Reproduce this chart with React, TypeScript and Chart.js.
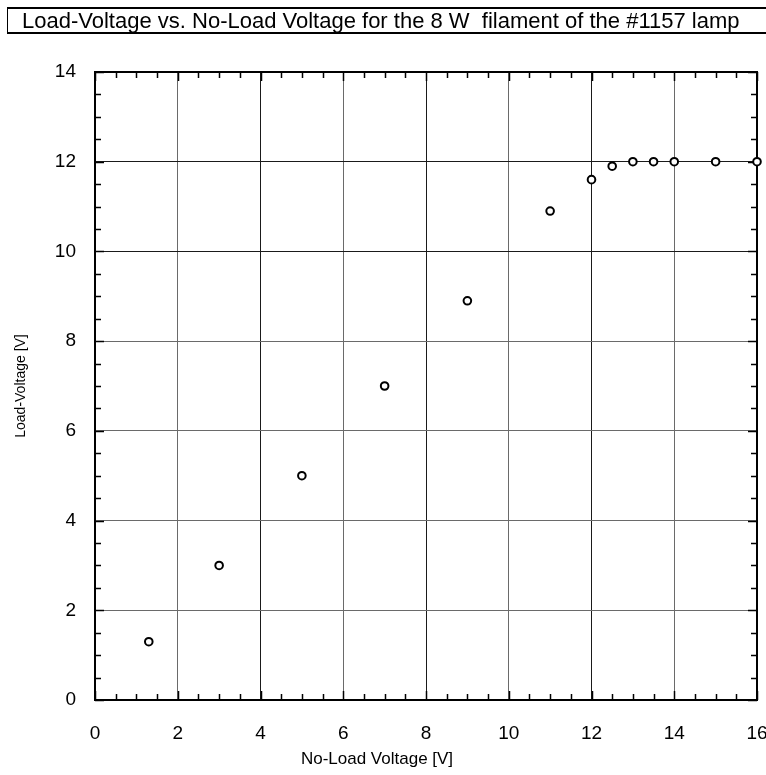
import React, { useEffect, useRef } from "react";
import { Chart, registerables } from "chart.js";

Chart.register(...registerables);

const noLoadVoltage = [1.3, 3, 5, 7, 9, 11, 12, 12.5, 13, 13.5, 14, 15, 16];
const loadVoltage = [1.3, 3, 5, 7, 8.9, 10.9, 11.6, 11.9, 12, 12, 12, 12, 12];
const xMajorTicks = [0, 2, 4, 6, 8, 10, 12, 14, 16];
const yMajorTicks = [0, 2, 4, 6, 8, 10, 12, 14];
const minorStep = 0.5;
const titleText = "Load-Voltage vs. No-Load Voltage for the 8 W  filament of the #1157 lamp";
const xTitle = "No-Load Voltage [V]";
const yTitle = "Load-Voltage [V]";

const FONT = "'Liberation Sans', Arial, Helvetica, sans-serif";

const frameAndTicks = {
  id: "frameAndTicks",
  beforeDatasetsDraw(chart: any) {
    const { ctx, chartArea } = chart;
    const xs = chart.scales.x;
    const ys = chart.scales.y;
    const { left, right, top, bottom } = chartArea;
    ctx.save();
    ctx.strokeStyle = "#000";
    ctx.lineWidth = 1.5;
    const len = 6;
    ctx.beginPath();
    for (let v = xs.min; v <= xs.max + 1e-9; v += minorStep) {
      const px = Math.round(xs.getPixelForValue(v)) + 0.5;
      const l = xMajorTicks.includes(v) ? len + 3 : len;
      ctx.moveTo(px, bottom);
      ctx.lineTo(px, bottom - l);
      ctx.moveTo(px, top);
      ctx.lineTo(px, top + l);
    }
    for (let v = ys.min; v <= ys.max + 1e-9; v += minorStep) {
      const py = Math.round(ys.getPixelForValue(v)) + 0.5;
      const l = yMajorTicks.includes(v) ? len + 3 : len;
      ctx.moveTo(left, py);
      ctx.lineTo(left + l, py);
      ctx.moveTo(right, py);
      ctx.lineTo(right - l, py);
    }
    ctx.stroke();
    ctx.lineWidth = 2;
    ctx.strokeRect(left, top, right - left, bottom - top);
    ctx.restore();
  },
  afterDraw(chart: any) {
    const { ctx, chartArea } = chart;
    const { left, right } = chartArea;
    ctx.save();
    ctx.fillStyle = "#000";
    ctx.font = `17px ${FONT}`;
    ctx.textAlign = "center";
    ctx.textBaseline = "middle";
    ctx.fillText(xTitle, left + (right - left) * 0.426, 759);
    ctx.restore();
  },
};

export default function App() {
  const ref = useRef<HTMLCanvasElement | null>(null);

  useEffect(() => {
    if (!ref.current) return;
    const chart = new Chart(ref.current, {
      type: "scatter",
      data: {
        datasets: [
          {
            data: noLoadVoltage.map((x, i) => ({ x, y: loadVoltage[i] })),
            pointStyle: "circle",
            pointRadius: 3.8,
            pointBorderWidth: 2,
            borderColor: "#000",
            backgroundColor: "#fff",
            showLine: false,
            clip: false,
          } as any,
        ],
      },
      options: {
        animation: false,
        responsive: false,
        devicePixelRatio: 1,
        layout: { padding: { top: 72, right: 33, left: 0, bottom: 0 } },
        plugins: {
          legend: { display: false },
          tooltip: { enabled: false },
          title: { display: false },
        },
        scales: {
          x: {
            type: "linear",
            min: 0,
            max: 16,
            afterBuildTicks: (s: any) => {
              s.ticks = xMajorTicks.map((v) => ({ value: v }));
            },
            afterFit: (s: any) => {
              s.height = 75;
            },
            ticks: {
              color: "#000",
              padding: 22,
              autoSkip: false,
              maxRotation: 0,
              font: { family: FONT, size: 19 },
            },
            grid: {
              drawTicks: false,
              lineWidth: 1,
              color: (c: any) =>
                [4, 8, 12].includes(c.tick?.value) ? "#1a1a1a" : "#6a6a6a",
            },
            border: { display: false },
            title: { display: false, text: xTitle },
          },
          y: {
            type: "linear",
            min: 0,
            max: 14,
            afterBuildTicks: (s: any) => {
              s.ticks = yMajorTicks.map((v) => ({ value: v }));
            },
            afterFit: (s: any) => {
              s.width = 95;
            },
            ticks: {
              color: "#000",
              padding: 19,
              autoSkip: false,
              font: { family: FONT, size: 19 },
            },
            grid: {
              drawTicks: false,
              lineWidth: 1,
              color: (c: any) =>
                [10, 12].includes(c.tick?.value) ? "#1a1a1a" : "#6a6a6a",
            },
            border: { display: false },
            title: {
              display: true,
              text: yTitle,
              color: "#000",
              font: { family: FONT, size: 14 },
              padding: { top: 13, bottom: 0 },
            },
          },
        },
      } as any,
      plugins: [frameAndTicks],
    });
    return () => chart.destroy();
  }, []);

  return (
    <div
      style={{
        position: "absolute",
        left: 0,
        top: 0,
        width: 766,
        height: 775,
        overflow: "hidden",
        background: "#fff",
      }}
    >
      <canvas
        ref={ref}
        width={790}
        height={775}
        style={{ position: "absolute", left: 0, top: 0, width: 790, height: 775 }}
      />
      <div
        style={{
          position: "absolute",
          left: 7,
          top: 7,
          width: 800,
          height: 23,
          lineHeight: "23px",
          borderTop: "2px solid #000",
          borderBottom: "2px solid #000",
          borderLeft: "1.5px solid #000",
          paddingLeft: 14,
          fontFamily: FONT,
          fontSize: 22,
          whiteSpace: "pre",
          color: "#000",
          boxSizing: "content-box",
        }}
      >
        {titleText}
      </div>
    </div>
  );
}
